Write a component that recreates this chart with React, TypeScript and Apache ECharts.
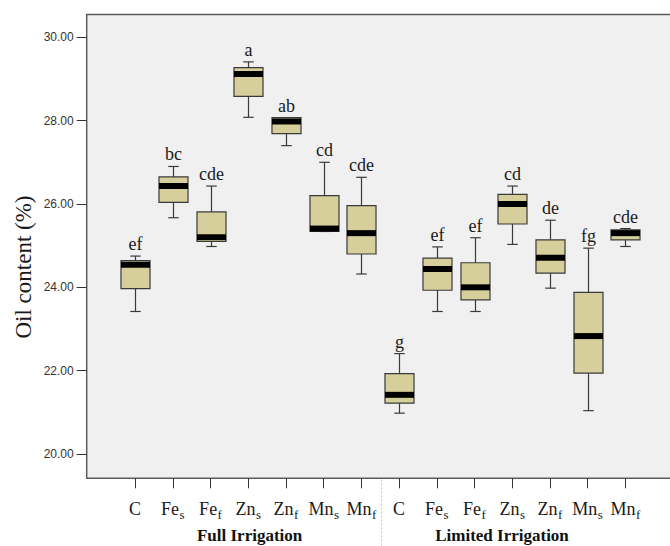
import React, { useEffect, useRef } from 'react';
import * as echarts from 'echarts';

const categories = ['C', 'Fe_s', 'Fe_f', 'Zn_s', 'Zn_f', 'Mn_s', 'Mn_f', 'C', 'Fe_s', 'Fe_f', 'Zn_s', 'Zn_f', 'Mn_s', 'Mn_f'];
const whiskerLow = [23.42, 25.67, 24.98, 28.08, 27.40, 25.34, 24.32, 20.98, 23.42, 23.42, 25.03, 23.98, 21.04, 24.98];
const q1 = [23.97, 26.04, 25.10, 28.58, 27.69, 25.34, 24.80, 21.22, 23.93, 23.70, 25.52, 24.34, 21.94, 25.14];
const median = [24.54, 26.43, 25.20, 29.12, 27.98, 25.41, 25.30, 21.42, 24.44, 24.00, 26.00, 24.71, 22.83, 25.30];
const q3 = [24.64, 26.65, 25.81, 29.27, 28.07, 26.20, 25.96, 21.93, 24.70, 24.59, 26.23, 25.14, 23.88, 25.38];
const whiskerHigh = [24.75, 26.90, 26.43, 29.41, 28.07, 27.00, 26.64, 22.41, 24.97, 25.19, 26.43, 25.61, 24.94, 25.41];
const letters = ['ef', 'bc', 'cde', 'a', 'ab', 'cd', 'cde', 'g', 'ef', 'ef', 'cd', 'de', 'fg', 'cde'];
const groups = ['Full Irrigation', 'Limited Irrigation'];
const yAxisName = 'Oil content (%)';
const yMin = 20;
const yMax = 30;
const yStep = 2;

const SERIF = '"Liberation Serif", "Times New Roman", serif';
const SANS = '"Liberation Sans", Arial, sans-serif';

function fmtCat(c: string) {
  const parts = c.split('_');
  if (parts.length === 1) return '{m|' + parts[0] + '}';
  return '{m|' + parts[0] + '}{g| }{s|' + parts[1] + '}';
}

export default function App() {
  const ref = useRef<HTMLDivElement>(null);
  useEffect(() => {
    if (!ref.current) return;
    const chart = echarts.init(ref.current, null, { renderer: 'svg' });
    const data = categories.map((_, i) => [i, whiskerLow[i], q1[i], median[i], q3[i], whiskerHigh[i]]);
    const option: any = {
      animation: false,
      backgroundColor: '#ffffff',
      grid: { left: 116.25, right: 25.8, top: 37.3, bottom: 92, containLabel: false },
      graphic: [
        {
          type: 'rect',
          z: -10,
          shape: { x: 86.7, y: 14.5, width: 600, height: 463.8 },
          style: { fill: '#f0f0f0', stroke: '#5c5c5c', lineWidth: 1.5 },
        },
        {
          type: 'line',
          shape: { x1: 381.5, y1: 479.5, x2: 381.5, y2: 546 },
          style: { stroke: '#c4c4c4', lineWidth: 1, lineDash: [2, 2] },
        },
        {
          type: 'text',
          x: 23,
          y: 267,
          rotation: Math.PI / 2,
          style: {
            text: yAxisName,
            fontFamily: SERIF,
            fontSize: 23,
            fill: '#1a1a1a',
            align: 'center',
            verticalAlign: 'middle',
          },
        },
        {
          type: 'text',
          x: 249.6,
          y: 535,
          style: {
            text: groups[0],
            fontFamily: SERIF,
            fontWeight: 'bold',
            fontSize: 17,
            fill: '#111',
            align: 'center',
            verticalAlign: 'middle',
          },
        },
        {
          type: 'text',
          x: 502,
          y: 535,
          style: {
            text: groups[1],
            fontFamily: SERIF,
            fontWeight: 'bold',
            fontSize: 17,
            fill: '#111',
            align: 'center',
            verticalAlign: 'middle',
          },
        },
      ],
      xAxis: {
        type: 'category',
        data: categories,
        offset: 24.3,
        axisLine: { show: false },
        axisTick: { show: true, alignWithLabel: true, length: 10, lineStyle: { color: '#333', width: 1 } },
        splitLine: { show: false },
        axisLabel: {
          interval: 0,
          margin: 19.5,
          formatter: (_v: string, idx: number) => fmtCat(categories[idx]),
          rich: {
            m: { fontFamily: SERIF, fontSize: 18, color: '#1a1a1a', lineHeight: 23 },
            g: { fontFamily: SERIF, fontSize: 2, lineHeight: 23 },
            s: { fontFamily: SERIF, fontSize: 13, color: '#1a1a1a', lineHeight: 13, padding: [10, 0, 0, 0] },
          },
        },
      },
      yAxis: {
        type: 'value',
        min: yMin,
        max: yMax,
        interval: yStep,
        offset: 29.55,
        axisLine: { show: false },
        axisTick: { show: true, length: 10, lineStyle: { color: '#333', width: 1 } },
        splitLine: { show: false },
        axisLabel: {
          margin: 13,
          fontFamily: SANS,
          fontSize: 12,
          color: '#333',
          formatter: (v: number) => v.toFixed(2),
        },
      },
      series: [
        {
          type: 'custom',
          clip: false,
          encode: { x: 0, y: [1, 2, 3, 4, 5] },
          data,
          renderItem: (params: any, api: any) => {
            const i = api.value(0);
            const cx = Math.round(api.coord([i, yMin])[0]) + 0.5;
            const Y = (v: number) => api.coord([i, v])[1];
            const bw = api.size([1, 0])[0] * 0.77;
            const cap = 10.5;
            const pMin = Y(api.value(1));
            const pQ1 = Y(api.value(2));
            const pMed = Y(api.value(3));
            const pQ3 = Y(api.value(4));
            const pMax = Y(api.value(5));
            const stroke = '#3a3a3a';
            const ls = { stroke, lineWidth: 1.2 };
            return {
              type: 'group',
              children: [
                { type: 'line', shape: { x1: cx, y1: pMax, x2: cx, y2: pQ3 }, style: ls },
                { type: 'line', shape: { x1: cx, y1: pQ1, x2: cx, y2: pMin }, style: ls },
                { type: 'line', shape: { x1: cx - cap / 2, y1: pMax, x2: cx + cap / 2, y2: pMax }, style: ls },
                { type: 'line', shape: { x1: cx - cap / 2, y1: pMin, x2: cx + cap / 2, y2: pMin }, style: ls },
                {
                  type: 'rect',
                  shape: { x: cx - bw / 2, y: pQ3, width: bw, height: pQ1 - pQ3 },
                  style: { fill: '#d6cf9c', stroke, lineWidth: 1.2 },
                },
                {
                  type: 'rect',
                  shape: { x: cx - bw / 2, y: pMed - 3, width: bw, height: 6 },
                  style: { fill: '#000000' },
                },
                {
                  type: 'text',
                  x: cx,
                  y: pMax - 3,
                  style: {
                    text: letters[i],
                    fontFamily: SERIF,
                    fontSize: 18,
                    fill: '#1a1a1a',
                    align: 'center',
                    verticalAlign: 'bottom',
                  },
                },
              ],
            };
          },
        },
      ],
    };
    chart.setOption(option);
    return () => chart.dispose();
  }, []);
  return <div ref={ref} style={{ position: 'fixed', left: 0, top: 0, width: 670, height: 546, background: '#fff' }} />;
}
